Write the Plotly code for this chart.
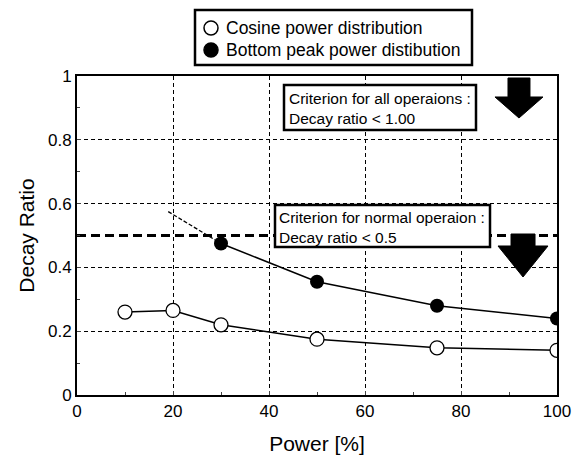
import plotly.graph_objects as go

power_cos = [10, 20, 30, 50, 75, 100]
dr_cos = [0.26, 0.265, 0.22, 0.175, 0.148, 0.14]
power_bot = [30, 50, 75, 100]
dr_bot = [0.475, 0.355, 0.28, 0.24]
extrap_x = [19, 30]
extrap_y = [0.575, 0.475]
crit_normal = 0.5
legend_names = ["Cosine power distribution", "Bottom peak power distibution"]

W, H = 572, 459
L, R, T, B = 77, 15, 76, 64
pw, ph = W - L - R, H - T - B

def px(x):
    return (x - L) / pw

def py(y):
    return (H - B - y) / ph

FONT = "Liberation Sans, Arial, sans-serif"

fig = go.Figure()

fig.add_trace(go.Scatter(x=[0, 100], y=[crit_normal, crit_normal], mode="lines",
                         line=dict(color="black", width=3, dash="9px,5px"),
                         showlegend=False, hoverinfo="skip"))
fig.add_trace(go.Scatter(x=extrap_x, y=extrap_y, mode="lines",
                         line=dict(color="black", width=1.3, dash="4px,2px"),
                         showlegend=False))
fig.add_trace(go.Scatter(x=power_cos, y=dr_cos, mode="lines+markers", name=legend_names[0],
                         line=dict(color="black", width=1.5),
                         marker=dict(size=14, color="white", line=dict(color="black", width=1.3)),
                         showlegend=False))
fig.add_trace(go.Scatter(x=power_bot, y=dr_bot, mode="lines+markers", name=legend_names[1],
                         line=dict(color="black", width=1.5),
                         marker=dict(size=14, color="black"),
                         showlegend=False))

def arrow(cx, top, neck, tip, shaft_hw, head_hw):
    pts = [(cx - shaft_hw, top), (cx + shaft_hw, top), (cx + shaft_hw, neck),
           (cx + head_hw, neck), (cx, tip), (cx - head_hw, neck), (cx - shaft_hw, neck)]
    d = "M " + " L ".join(f"{px(x):.4f},{py(y):.4f}" for x, y in pts) + " Z"
    return dict(type="path", xref="paper", yref="paper", path=d,
                fillcolor="black", line=dict(color="black", width=1))

shapes = [arrow(519, 78, 97, 118, 11, 24), arrow(523, 234, 246, 277, 12, 25)]

for x0, y0, x1, y1 in [(284, 85, 476, 130), (275, 205, 490, 247)]:
    shapes.append(dict(type="rect", xref="paper", yref="paper",
                       x0=px(x0), x1=px(x1), y0=py(y1), y1=py(y0),
                       fillcolor="white", line=dict(color="black", width=2.5)))

shapes.append(dict(type="rect", xref="paper", yref="paper",
                   x0=px(195), x1=px(472), y0=py(65), y1=py(10),
                   fillcolor="white", line=dict(color="black", width=2.5)))
for cy, fill in [(28, "white"), (50, "black")]:
    shapes.append(dict(type="circle", xref="paper", yref="paper",
                       xsizemode="pixel", ysizemode="pixel",
                       xanchor=px(211), yanchor=py(cy), x0=-7, x1=7, y0=-7, y1=7,
                       fillcolor=fill, line=dict(color="black", width=1.5)))

annotations = [
    dict(xref="paper", yref="paper", x=px(287), y=py(88), xanchor="left", yanchor="top",
         text="Criterion for all operaions :<br>Decay ratio < 1.00", showarrow=False, align="left",
         font=dict(family=FONT, size=15.5, color="black")),
    dict(xref="paper", yref="paper", x=px(277), y=py(207), xanchor="left", yanchor="top",
         text="Criterion for normal operaion :<br>Decay ratio < 0.5", showarrow=False, align="left",
         font=dict(family=FONT, size=15.5, color="black")),
    dict(xref="paper", yref="paper", x=px(224), y=py(28), xanchor="left", yanchor="middle",
         text=legend_names[0], showarrow=False, font=dict(family=FONT, size=17.5, color="black")),
    dict(xref="paper", yref="paper", x=px(224), y=py(50), xanchor="left", yanchor="middle",
         text=legend_names[1], showarrow=False, font=dict(family=FONT, size=17.5, color="black")),
]

fig.update_layout(
    width=W, height=H,
    margin=dict(l=L, r=R, t=T, b=B),
    paper_bgcolor="white", plot_bgcolor="white",
    font=dict(family=FONT, size=17, color="black"),
    shapes=shapes, annotations=annotations,
    showlegend=False,
)
fig.update_xaxes(range=[0, 100], tick0=0, dtick=20, showline=True, mirror=True,
                 linecolor="black", linewidth=2, ticks="inside", ticklen=4,
                 showgrid=True, gridcolor="black", gridwidth=1, griddash="4px,3px",
                 zeroline=False, minor=dict(dtick=10, ticks="inside", ticklen=3, showgrid=False),
                 title=dict(text="Power [%]", font=dict(size=21), standoff=16),
                 tickfont=dict(size=17), automargin=False)
fig.update_yaxes(range=[0, 1], tick0=0, dtick=0.2, showline=True, mirror=True,
                 linecolor="black", linewidth=2, ticks="inside", ticklen=4,
                 showgrid=True, gridcolor="black", gridwidth=1, griddash="4px,3px",
                 zeroline=False, minor=dict(dtick=0.1, ticks="inside", ticklen=3, showgrid=False),
                 tickvals=[0, 0.2, 0.4, 0.6, 0.8, 1], ticktext=["0", "0.2", "0.4", "0.6", "0.8", "1"],
                 title=dict(text="Decay Ratio", font=dict(size=21), standoff=8),
                 tickfont=dict(size=17), automargin=False)

fig.write_html("out.html")
